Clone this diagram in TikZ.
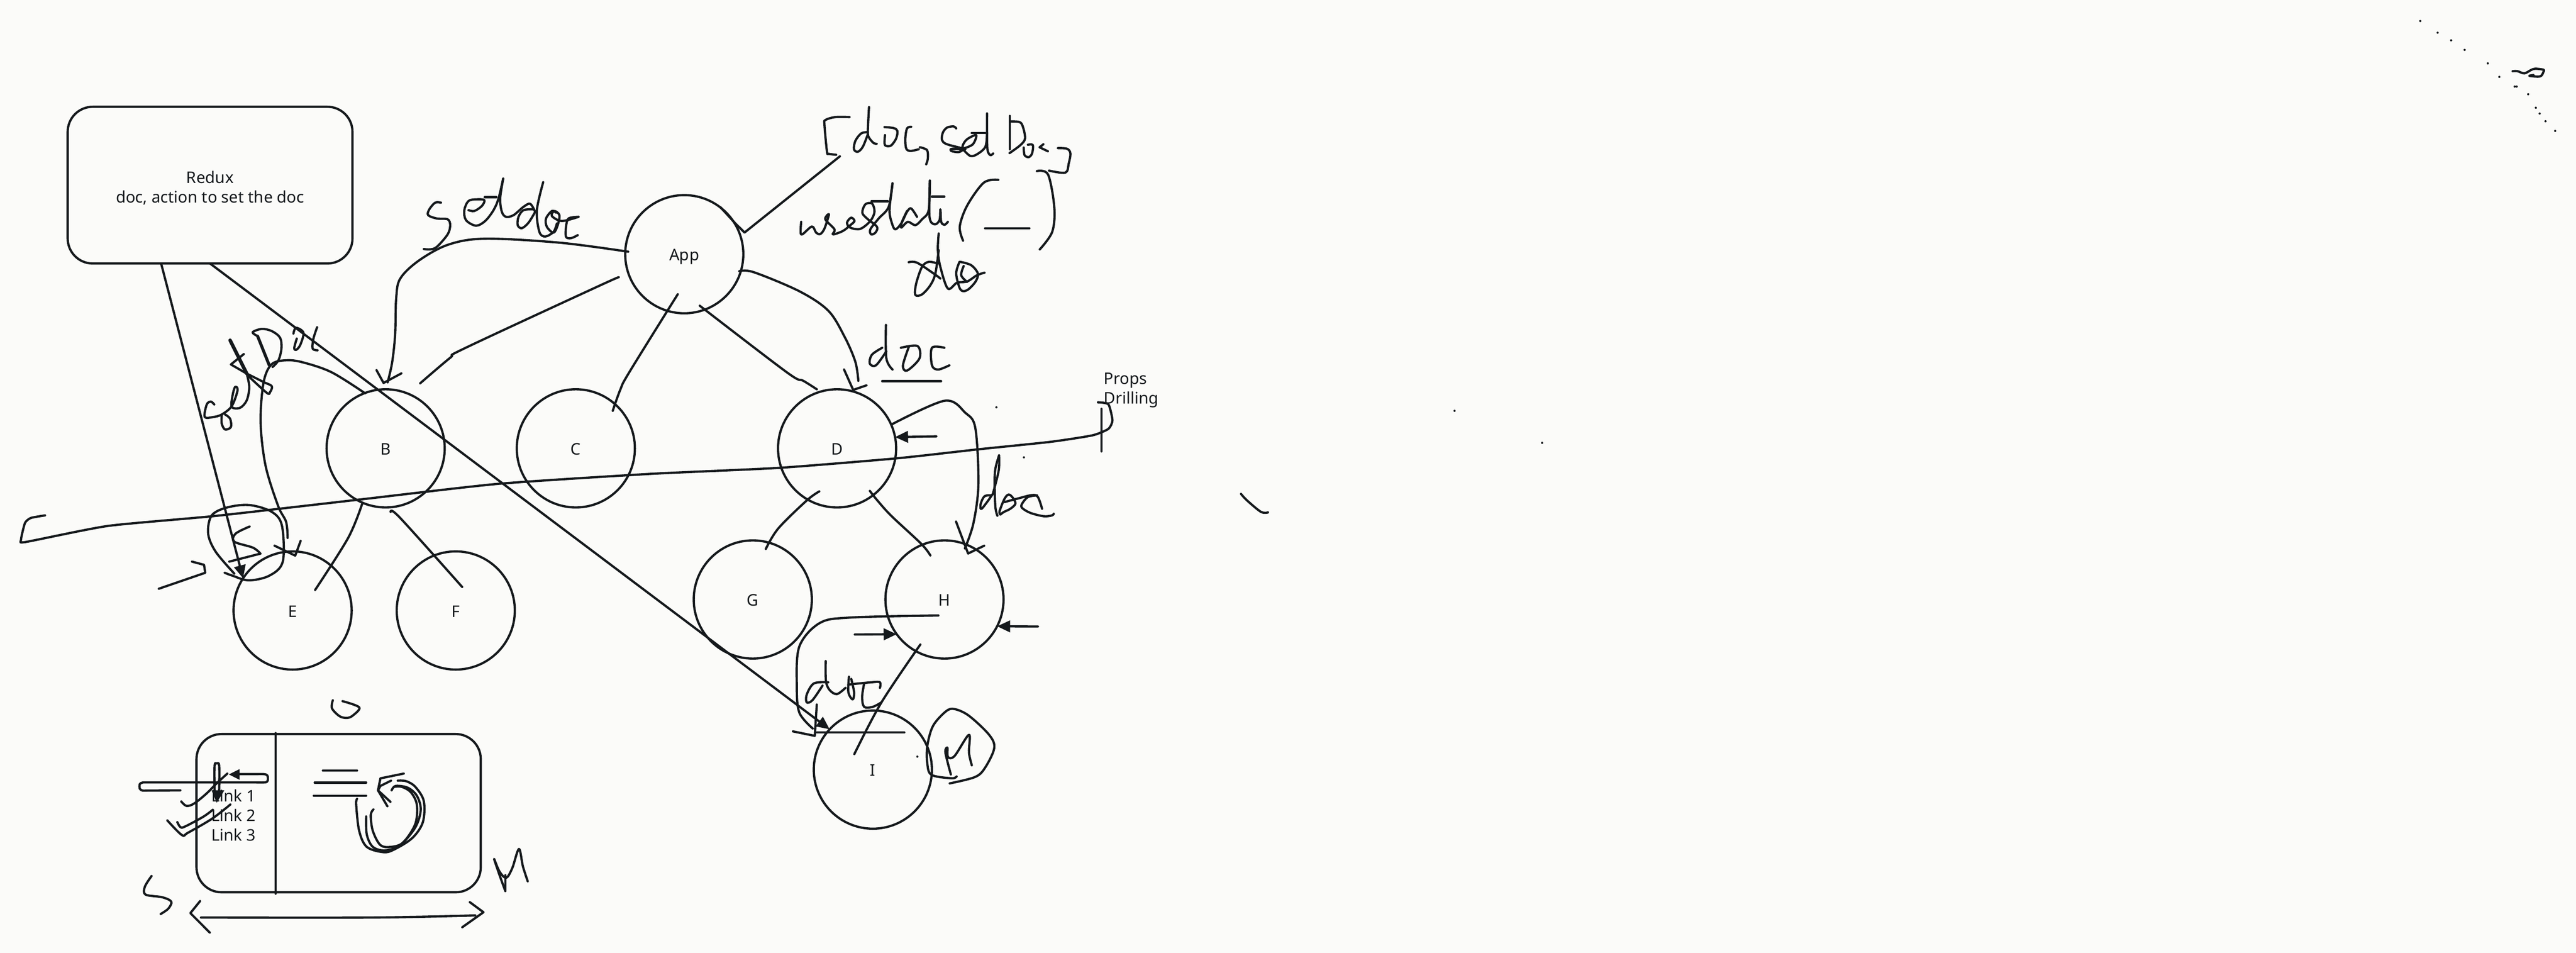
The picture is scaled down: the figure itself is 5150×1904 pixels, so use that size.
\documentclass[tikz,border=0pt]{standalone}
\usepackage{fontspec}
\setmainfont{Noto Sans}
\usetikzlibrary{arrows.meta}
\definecolor{paper}{HTML}{FBFBF9}
\definecolor{ink}{HTML}{15191C}
\tikzset{
  every node/.style={font=\fontsize{9.1}{11.1}\selectfont, text=ink, inner sep=0pt, outer sep=0pt},
  hand/.style={draw=ink, line width=.045cm, line cap=round, line join=round, smooth, tension=.55},
  headed/.style={hand, -{Triangle[length=.26cm,width=.23cm]}},
  comp node/.style={draw=ink, line width=.045cm, circle, minimum size=2.36cm, text height=.26cm, text depth=0cm},
  card/.style={draw=ink, line width=.045cm, rounded corners=.5cm, align=center},
  zone a/.style={shift={(0,150)},xscale=.829,yscale=.797},
  zone b/.style={shift={(1200,0)},xscale=.829,yscale=.702},
  zone c/.style={shift={(200,1350)},xscale=.606,yscale=.353},
  zone d/.style={shift={(1300,1000)},xscale=.574,yscale=.446},
  fine/.style={shift={#1},scale=.3333},
}
\begin{document}
\begin{tikzpicture}[x=.01cm, y=-.01cm]
\fill[paper] (0,0) rectangle (5150,1904);

\node[card, minimum width=5.69cm, minimum height=3.13cm] (redux) at (420,370) {\rule{0pt}{.36cm}Redux\\doc, action to set the doc};
\node[card, minimum width=5.68cm, minimum height=3.16cm] (layout) at (677,1625) {};
\node[align=left] (links) at (467,1629) {Link 1\\Link 2\\Link 3};
\node[anchor=west, align=left] (props) at (2207,780) {Props\\Drilling};

\node[comp node] (app) at (1368,508) {App};
\node[comp node] (b) at (771,896) {B};
\node[comp node, right of=b, node distance=3.8cm] (c) {C};
\node[comp node, right of=c, node distance=5.22cm] (d) {D};
\node[comp node] (e) at (585,1220) {E};
\node[comp node, right of=e, node distance=3.26cm] (f) {F};
\node[comp node] (g) at (1505,1198) {G};
\node[comp node, right of=g, node distance=3.83cm] (h) {H};
\node[comp node] (i) at (1745,1538) {I};

\coordinate (appL) at (1256,503);
\coordinate (appLow) at (1237,554);
\coordinate (appC) at (1355,588);
\coordinate (appD) at (1399,611);
\coordinate (appR) at (1478,542);
\coordinate (bTop) at (775,764);
\coordinate (bRight) at (840,766);
\coordinate (bLeft) at (730,786);
\coordinate (bE) at (724,1007);
\coordinate (bF) at (781,1023);
\coordinate (cTop) at (1225,821);
\coordinate (dTop) at (1633,778);
\coordinate (dHead) at (1716,761);
\coordinate (dG) at (1638,982);
\coordinate (dH) at (1739,981);
\coordinate (dSide) at (1783,848);
\coordinate (eTop) at (575,1075);
\coordinate (eIn) at (630,1179);
\coordinate (fIn) at (924,1173);
\coordinate (gTop) at (1531,1097);
\coordinate (hIn) at (1860,1110);
\coordinate (hHead) at (1929,1096);
\coordinate (hLow) at (1840,1288);
\coordinate (hMid) at (1876,1230);
\coordinate (iIn) at (1708,1507);
\coordinate (iHead) at (1625,1456);
\coordinate (dArrow) at (1872,872);
\coordinate (hArrowR) at (2075,1252);
\coordinate (hArrowL) at (1709,1268);
\coordinate (splitTop) at (551,1465);
\coordinate (splitLow) at (551,1786);

\draw[headed] (redux.-122) -- (e.147);
\draw[headed] (redux.south) -- (i.137);
\draw[headed] (dArrow) -- (d.11);
\draw[headed] (hArrowR) -- (h.-27);
\draw[headed] (hArrowL) -- (h.216);
\draw[hand] (splitTop) -- (splitLow);

\draw[hand] plot coordinates {(appL) (1119,485) (970,477) (896,489) (837,521) (800,557) (792,597) (790,668) (784,724) (bTop)};
\draw[hand] plot coordinates {(appLow) (1194,573) (929,696) (900,715) (bRight)};
\draw[hand] plot coordinates {(appC) (1258,744) (1240,779) (cTop)};
\draw[hand] plot coordinates {(appD) (1573,744) (1606,761) (dTop)};
\draw[hand] plot coordinates {(appR) (1507,544) (1598,582) (1656,621) (1689,674) (1710,723) (dHead)};
\draw[hand] plot coordinates {(bLeft) (663,744) (605,724) (572,720) (543,728) (527,764) (521,844) (531,931) (556,1011) (572,1043) (eTop)};
\draw[hand] plot coordinates {(bE) (696,1075) (eIn)};
\draw[hand] plot coordinates {(bF) (800,1035) (fIn)};
\draw[hand] plot coordinates {(dG) (1613,1000) (1556,1056) (gTop)};
\draw[hand] plot coordinates {(dH) (1754,1000) (1782,1031) (1842,1087) (hIn)};
\draw[hand] plot coordinates {(dSide) (1888,801) (1930,825) (1950,856) (1956,968) (1946,1046) (hHead)};
\draw[hand] plot coordinates {(hLow) (1762,1404) (iIn)};
\draw[hand] plot coordinates {(hMid) (1702,1234) (1639,1245) (1598,1292) (1593,1370) (1598,1424) (iHead)};

\draw[hand, tension=.35] plot coordinates {(90,1030) (62,1035) (50,1045) (42,1079) (52,1083) (216,1051) (431,1031) (713,999) (995,967) (1300,947) (1557,935) (1792,916) (1955,898) (2100,883) (2184,870) (2216,857) (2224,840) (2216,808) (2195,804)};
\draw[hand] (2202,817) -- (2202,902);
\draw[hand] plot coordinates {(2481,987) (2493,1000) (2521,1023) (2535,1024)};
\foreach \px/\py in {1992/814, 2047/914, 1834/1512, 2908/821, 3083/885}
  \fill[ink] (\px,\py) circle (2.2);

\begin{scope}[zone a]
\draw[hand] (908,740) -- (925,772) -- (968,748);
\draw[hand] (662,1180) -- (712,1205) -- (725,1168);
\draw[hand] plot coordinates {(565,1250) (520,1195) (502,1150) (510,1105) (545,1085) (600,1078) (655,1095) (680,1130) (682,1220) (650,1255) (600,1267) (560,1255) (542,1248)};
\draw[hand] plot coordinates {(602,1132) (568,1150) (565,1170) (610,1185) (628,1200)};
\draw[hand] (628,1200) -- (553,1220);
\draw[hand] (383,1288) -- (495,1248) -- (492,1228) -- (463,1220);
\end{scope}

\begin{scope}[zone b]
\draw[hand] (578,445) -- (348,662) -- (325,635) -- (290,590);
\draw[hand] (588,1052) -- (610,1110) -- (642,1097);
\draw[hand] plot coordinates {(960,512) (925,520) (885,585) (867,645) (875,685)};
\draw[hand] plot coordinates {(1053,487) (1080,497) (1095,590) (1090,660) (1060,710)};
\draw[hand] (928,650) -- (1035,650);
\draw[hand] plot coordinates {(689,925) (690,1020) (705,1052)};
\draw[hand] plot coordinates {(680,990) (655,1010) (650,1035) (665,1040) (690,1000)};
\draw[hand] plot coordinates {(745,985) (730,1040) (740,1055) (770,1020) (765,985) (725,990)};
\draw[hand] plot coordinates {(830,990) (800,990) (800,1040) (815,1052) (842,1040)};
\draw[hand] (680,1085) -- (822,1085);
\end{scope}

\begin{scope}[fine={(1640,200)}]
\draw[hand] plot coordinates {(175,102) (90,102) (30,120) (25,150) (40,310) (50,322) (95,328)};
\draw[hand] plot coordinates {(292,42) (285,190) (292,225) (320,258) (338,262)};
\draw[hand] plot coordinates {(285,192) (245,200) (210,245) (202,295) (225,310) (255,280) (285,205)};
\draw[hand] plot coordinates {(385,162) (440,168) (462,185) (455,230) (425,272) (395,275) (385,260) (388,210)};
\draw[hand] plot coordinates {(545,160) (520,170) (510,230) (515,290) (540,305) (590,295)};
\draw[hand] plot coordinates {(597,283) (640,300) (645,350) (635,385)};
\draw[hand] plot coordinates {(815,170) (800,158) (760,165) (735,195) (730,240) (760,265) (870,295) (790,292) (785,305) (830,312) (860,295)};
\draw[hand] plot coordinates {(855,295) (855,270) (880,235) (935,210) (915,265) (860,290)};
\draw[hand] plot coordinates {(860,300) (900,335) (940,325) (990,280) (1000,200)};
\draw[hand] plot coordinates {(1000,80) (1000,200) (1003,300) (1020,330) (1037,320)};
\draw[hand] (908,198) -- (990,198);
\draw[hand] (1137,95) -- (1137,295);
\draw[hand] plot coordinates {(1140,128) (1195,132) (1215,160) (1228,230) (1200,270) (1135,318)};
\draw[hand] plot coordinates {(1220,285) (1225,330) (1250,342) (1270,320) (1275,270) (1245,268)};
\draw[hand] (1338,265) -- (1315,283) -- (1365,307);
\draw[hand] plot coordinates {(1425,288) (1480,292) (1500,320) (1490,380) (1470,435) (1372,423)};
\end{scope}

\begin{scope}[fine={(1580,400)}]
\draw[hand] plot coordinates {(65,130) (62,195) (75,203) (130,158) (155,195) (180,203) (205,170) (232,85) (210,115) (265,175) (255,205) (315,185) (360,150) (385,125) (365,105) (340,135) (360,165) (420,172) (480,125) (505,70) (490,20) (450,25) (432,75) (460,110) (520,160) (510,195) (485,205) (480,175) (530,110) (590,40) (613,-101)};
\draw[hand] plot coordinates {(613,-101) (595,60) (610,140) (630,175) (665,140) (700,70) (725,50) (760,100)};
\draw[hand] plot coordinates {(700,65) (670,130) (665,165) (705,130) (750,150) (790,115) (830,60) (837,-117)};
\draw[hand] plot coordinates {(837,-117) (835,100) (865,145) (895,120) (900,55) (905,130) (925,148) (945,130)};
\draw[hand] (487,7) -- (585,7);
\draw[hand] (849,-21) -- (924,-21);
\draw[hand] plot coordinates {(890,200) (885,300) (900,400) (945,530) (1000,495) (1060,488) (1120,450) (1165,435)};
\draw[hand] plot coordinates {(885,380) (830,370) (790,400) (755,500) (750,568) (790,565) (840,510) (870,440) (890,300)};
\draw[hand] plot coordinates {(710,372) (760,375) (860,440) (900,470)};
\draw[hand] plot coordinates {(1015,370) (995,440) (1020,535) (1060,540) (1110,490) (1125,440) (1085,390) (1020,370)};
\draw[hand] plot coordinates {(1040,395) (1025,450) (1060,490)};
\end{scope}

\begin{scope}[fine={(380,640)}]
\draw[hand] plot coordinates {(145,505) (125,488) (100,505) (88,580) (140,580) (190,565) (250,515) (285,420) (270,400) (255,450) (250,520) (300,525) (340,480) (355,400) (340,320)};
\draw[hand] plot coordinates {(190,570) (190,620) (210,655) (245,640) (240,590) (210,565)};
\draw[hand, line width=.07cm] (240,120) -- (340,320);
\draw[hand] (322,203) -- (245,265) -- (340,320);
\draw[hand] plot coordinates {(340,320) (440,370) (490,395) (480,430) (460,435) (345,330)};
\draw[hand, line width=.06cm] (405,95) -- (475,270);
\draw[hand] plot coordinates {(405,95) (375,72) (430,52) (490,65) (540,105) (548,170) (530,240) (495,280)};
\draw[hand] plot coordinates {(620,80) (635,45) (680,75) (660,150) (635,178) (625,165) (640,110)};
\draw[hand] plot coordinates {(762,42) (740,110) (735,170) (765,180)};
\end{scope}

\begin{scope}[fine={(840,370)}]
\draw[hand] plot coordinates {(125,105) (90,105) (55,145) (48,180) (100,200) (165,205) (180,240) (165,295) (100,370) (60,385) (22,383)};
\draw[hand] plot coordinates {(290,150) (325,155) (370,125) (385,90) (340,85) (290,95) (265,150) (275,210) (335,243) (390,215) (440,150) (470,80) (498,-39)};
\draw[hand] (387,72) -- (457,72);
\draw[hand] plot coordinates {(498,-39) (480,80) (490,160) (515,190) (560,180) (620,130) (660,112) (690,160)};
\draw[hand] plot coordinates {(738,-18) (700,150) (715,280) (750,308) (800,280) (820,230)};
\draw[hand] plot coordinates {(680,145) (620,150) (590,190) (585,240) (610,258) (650,225) (690,160)};
\draw[hand] plot coordinates {(815,165) (790,155) (755,200) (760,250) (800,285) (825,240) (835,180) (805,155) (790,185) (850,215) (950,190)};
\draw[hand] plot coordinates {(950,190) (890,200) (875,250) (875,310) (905,318) (945,300)};
\end{scope}

\begin{scope}[fine={(1940,900)}]
\draw[hand] plot coordinates {(172,30) (150,110) (145,200) (150,340) (162,392)};
\draw[hand] plot coordinates {(172,30) (170,120) (135,260)};
\draw[hand] plot coordinates {(125,270) (85,275) (62,320) (65,352) (100,310) (135,260)};
\draw[hand] plot coordinates {(180,385) (200,370) (240,350) (270,320) (255,285) (230,265) (205,290) (175,365) (180,385)};
\draw[hand] plot coordinates {(205,310) (280,290) (370,268) (405,280) (430,350)};
\draw[hand] plot coordinates {(400,270) (345,280) (310,320) (310,345) (360,375) (440,395) (490,390) (500,380)};
\end{scope}

\begin{scope}[zone c]
\fill[ink] (425,560) -- (460,530) -- (460,590) -- cycle;
\draw[hand] plot coordinates {(460,558) (510,558) (540,558) (552,566) (553,595) (543,605) (500,605) (300,605) (160,605) (140,606) (131,615) (131,640) (140,651) (160,651) (265,650)};
\fill[ink] (385,720) -- (368,650) -- (410,650) -- cycle;
\draw[hand] plot coordinates {(378,650) (378,510) (385,498) (393,510) (393,650)};
\draw[hand] plot coordinates {(268,713) (285,738) (310,725) (350,670) (385,610) (420,555)};
\draw[hand] plot coordinates {(255,830) (265,858) (280,855) (340,800) (372,760)};
\draw[hand] plot coordinates {(222,820) (270,903) (290,890) (370,810) (430,730)};
\draw[hand] (735,538) -- (848,538);
\draw[hand] (708,606) -- (878,606);
\draw[hand] (705,680) -- (878,680);
\draw[hand] (1002,555) -- (925,582) -- (917,650) -- (948,740);
\draw[hand] (960,595) -- (925,625) -- (917,650) -- (958,715);
\draw[hand] plot coordinates {(848,698) (845,730) (855,880) (880,970) (935,1000) (970,985) (1030,920) (1065,830) (1068,710) (1040,630) (1010,598) (982,595)};
\draw[hand] plot coordinates {(878,798) (880,900) (900,970) (940,990) (990,960) (1040,860) (1058,760) (1045,680) (1015,635) (975,625) (962,650)};
\draw[hand] plot coordinates {(902,758) (893,790) (900,880) (925,960) (960,970) (1000,945) (1040,840) (1045,730) (1025,660) (995,630) (970,630)};
\draw[hand] plot coordinates {(768,140) (765,185) (790,230) (815,240) (835,225) (855,180) (800,145)};
\draw[hand] plot coordinates {(170,1135) (148,1195) (150,1240) (205,1255) (235,1280) (225,1320) (200,1350)};
\draw[hand] plot coordinates {(333,1370) (900,1370) (1238,1358)};
\draw[hand] (330,1277) -- (298,1345) -- (362,1455);
\draw[hand] (1220,1283) -- (1265,1340) -- (1195,1425);
\draw[hand] plot coordinates {(1337,1220) (1318,1130) (1300,1038) (1318,1110) (1340,1145) (1360,1090) (1382,982) (1395,1080) (1411,1165)};
\draw[hand] (1337,1130) -- (1337,1220);
\end{scope}

\begin{scope}[zone d]
\draw[hand] (1065,95) -- (1107,238) -- (1163,203);
\draw[hand] (580,915) -- (573,1055) -- (497,1035);
\draw[hand] (580,1040) -- (885,1040);
\draw[hand] plot coordinates {(611,720) (612,810) (625,850) (650,868) (680,840)};
\draw[hand] plot coordinates {(620,815) (570,820) (545,870) (545,905) (565,895) (600,830)};
\draw[hand] plot coordinates {(692,790) (690,860) (705,892) (710,860) (700,800)};
\draw[hand] plot coordinates {(690,825) (770,815) (800,815) (800,840)};
\draw[hand] plot coordinates {(745,820) (738,880) (745,925) (775,925) (805,905)};
\draw[hand] plot coordinates {(1043,1268) (1130,1240) (1165,1200) (1198,1110) (1180,1050) (1110,965) (1060,935) (1030,945) (985,1010) (965,1100) (965,1180) (980,1230) (1050,1245) (1067,1237)};
\draw[hand] plot coordinates {(1047,1228) (1028,1130) (1035,1108) (1037,1150) (1060,1145) (1110,1050) (1110,1130) (1120,1187)};
\end{scope}

\begin{scope}[fine={(4750,0)}]
\foreach \px/\py in {266/126, 370/196, 451/242, 532/299, 671/380, 740/461, 832/519, 844/519, 913/565, 959/646, 982/681, 1017/727, 1075/785}
  \fill[ink] (\px,\py) circle (6.6);
\draw[hand] plot coordinates {(820,427) (850,427) (890,440) (930,420) (955,412) (1005,418) (1005,430) (985,458) (920,455) (945,450)};
\end{scope}
\end{tikzpicture}
\end{document}
